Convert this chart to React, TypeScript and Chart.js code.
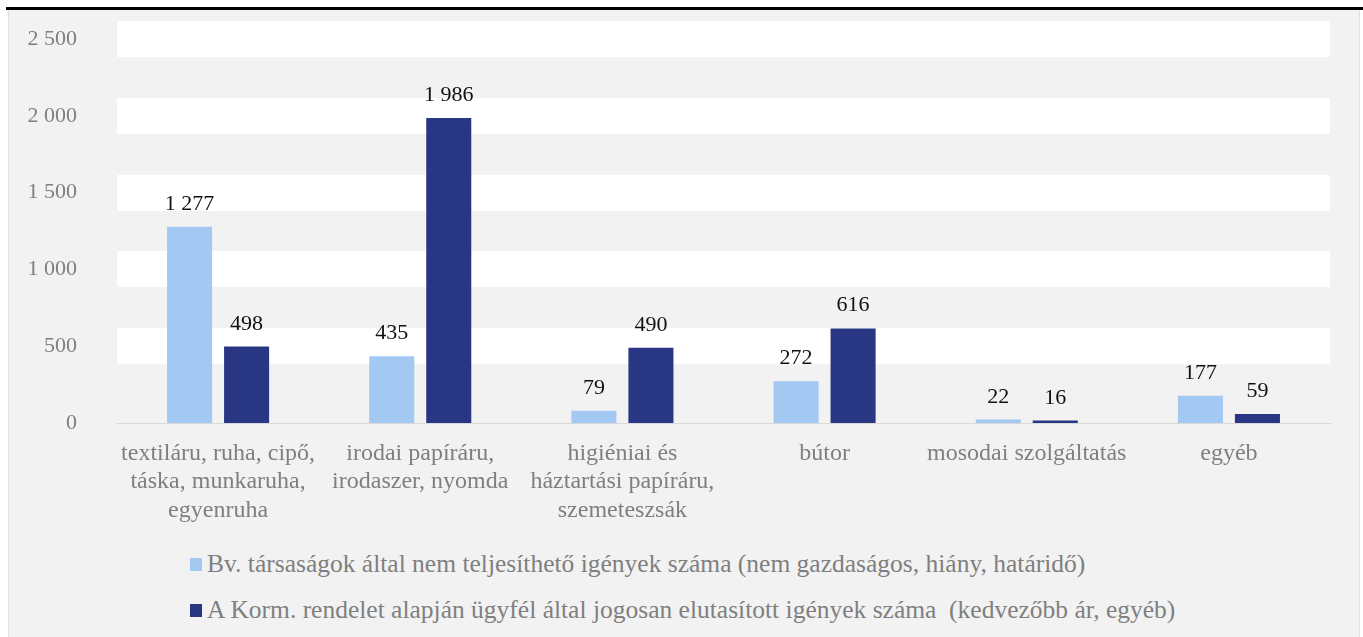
import React, { useEffect, useRef } from "react";
import { Chart, registerables } from "chart.js";

Chart.register(...registerables);

const categories: string[][] = [
  ["textiláru, ruha, cipő,", "táska, munkaruha,", "egyenruha"],
  ["irodai papíráru,", "irodaszer, nyomda"],
  ["higiéniai és", "háztartási papíráru,", "szemeteszsák"],
  ["bútor"],
  ["mosodai szolgáltatás"],
  ["egyéb"],
];

const seriesNames: string[] = [
  "Bv. társaságok által nem teljesíthető igények száma (nem gazdaságos, hiány, határidő)",
  "A Korm. rendelet alapján ügyfél által jogosan elutasított igények száma  (kedvezőbb ár, egyéb)",
];

const notFulfillable: number[] = [1277, 435, 79, 272, 22, 177];
const rejected: number[] = [498, 1986, 490, 616, 16, 59];

const seriesColors: string[] = ["#a3c8f2", "#293683"];

const yMin = 0;
const yMax = 2500;
const yStep = 500;

const FONT = "'Liberation Serif', 'Times New Roman', serif";
const GRAY = "#7f7f7f";

const fmt = (v: number) =>
  String(Math.round(v)).replace(/\B(?=(\d{3})+(?!\d))/g, " ");

const valueLabels = {
  id: "valueLabels",
  afterDatasetsDraw(chart: any) {
    const ctx = chart.ctx;
    ctx.save();
    ctx.font = `22px ${FONT}`;
    ctx.fillStyle = "#111111";
    ctx.textAlign = "center";
    ctx.textBaseline = "alphabetic";
    chart.data.datasets.forEach((ds: any, di: number) => {
      const meta = chart.getDatasetMeta(di);
      meta.data.forEach((bar: any, i: number) => {
        ctx.fillText(fmt(ds.data[i]), bar.x, bar.y - 17);
      });
    });
    ctx.restore();
  },
};

export default function App() {
  const ref = useRef<HTMLCanvasElement | null>(null);

  useEffect(() => {
    if (!ref.current) return;
    const chart = new Chart(ref.current, {
      type: "bar",
      data: {
        labels: categories,
        datasets: [
          {
            label: seriesNames[0],
            data: notFulfillable,
            backgroundColor: seriesColors[0],
            categoryPercentage: 0.564,
            barPercentage: 0.79,
          },
          {
            label: seriesNames[1],
            data: rejected,
            backgroundColor: seriesColors[1],
            categoryPercentage: 0.564,
            barPercentage: 0.79,
          },
        ],
      },
      options: {
        responsive: false,
        animation: false,
        devicePixelRatio: 1,
        layout: { padding: { left: 0, right: 20, top: 29, bottom: 0 } },
        plugins: {
          legend: { display: false },
          title: { display: false },
          tooltip: { enabled: false },
        },
        scales: {
          x: {
            grid: { display: false, drawTicks: false },
            border: { display: true, color: "#d9d9d9", width: 1 },
            ticks: {
              color: GRAY,
              font: { family: FONT, size: 24, lineHeight: 1.19 },
              padding: 16,
              maxRotation: 0,
              autoSkip: false,
            },
            afterFit: (s: any) => {
              s.height = 117;
            },
          },
          y: {
            min: yMin,
            max: yMax,
            grid: {
              drawTicks: false,
              color: (c: any) =>
                c.tick && c.tick.value === 0 ? "rgba(0,0,0,0)" : "#ffffff",
              lineWidth: (c: any) => (c.tick && c.tick.value === 0 ? 0 : 36),
            },
            border: { display: false },
            ticks: {
              stepSize: yStep,
              color: GRAY,
              font: { family: FONT, size: 22, lineHeight: 1 },
              padding: 40,
              callback: (v: any) => fmt(Number(v)),
            },
            afterFit: (s: any) => {
              s.width = 107;
              s.paddingTop = 0;
              s.paddingBottom = 0;
            },
          },
        },
      },
      plugins: [valueLabels],
    });
    return () => chart.destroy();
  }, []);

  return (
    <div
      style={{
        position: "absolute",
        left: 0,
        top: 0,
        width: 1363,
        height: 637,
        background: "#ffffff",
        overflow: "hidden",
      }}
    >
      <div
        style={{
          position: "absolute",
          left: 6,
          right: 0,
          top: 7,
          height: 3,
          background: "#000000",
        }}
      />
      <div
        style={{
          position: "absolute",
          left: 8,
          top: 10,
          width: 1350,
          height: 627,
          background: "#f2f2f2",
          borderLeft: "1px solid #e2e2e2",
          borderRight: "1px solid #e2e2e2",
        }}
      />
      <canvas
        ref={ref}
        width={1340}
        height={530}
        style={{ position: "absolute", left: 10, top: 10, width: 1340, height: 530 }}
      />
      <div
        style={{
          position: "absolute",
          left: 190,
          top: 548,
          fontFamily: FONT,
          fontSize: 25.5,
          color: GRAY,
        }}
      >
        {seriesNames.map((name, i) => (
          <div
            key={i}
            style={{
              display: "flex",
              alignItems: "center",
              height: 32,
              marginBottom: 14,
              whiteSpace: "pre",
            }}
          >
            <span
              style={{
                display: "inline-block",
                width: 12,
                height: 13,
                background: seriesColors[i],
                marginRight: 5,
              }}
            />
            <span>{name}</span>
          </div>
        ))}
      </div>
    </div>
  );
}
